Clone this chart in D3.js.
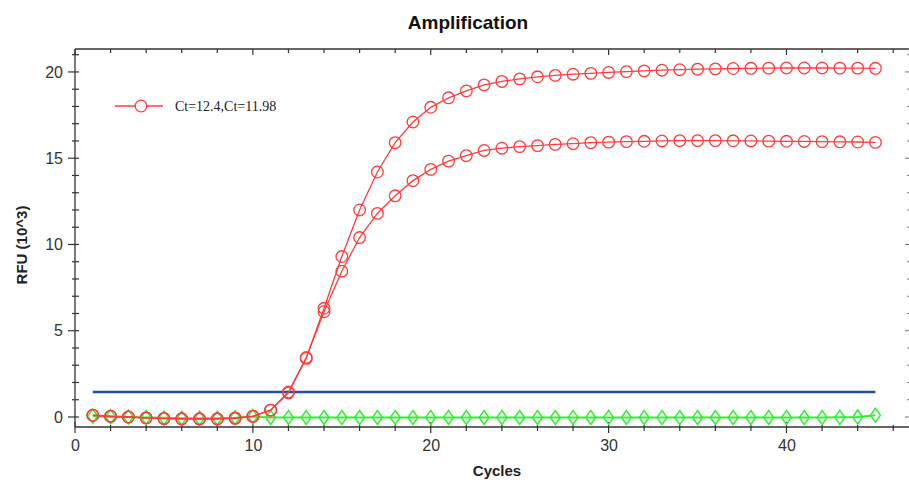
<!DOCTYPE html>
<html>
<head>
<meta charset="utf-8">
<script src="https://cdn.jsdelivr.net/npm/d3@7"></script>
<style>
  body { margin: 0; background: #fff; }
  svg { display: block; font-family: "Liberation Sans", Arial, sans-serif; }
</style>
</head>
<body>
<svg id="chart"></svg>
<script>
var cycles = [1,2,3,4,5,6,7,8,9,10,11,12,13,14,15,16,17,18,19,20,21,22,23,24,25,26,27,28,29,30,31,32,33,34,35,36,37,38,39,40,41,42,43,44,45];

var sampleA = [0.1,0.05,0.0,-0.05,-0.08,-0.1,-0.1,-0.1,-0.05,0.05,0.4,1.4,3.4,6.3,9.3,12.0,14.2,15.9,17.1,17.95,18.5,18.9,19.25,19.45,19.6,19.72,19.8,19.87,19.92,19.97,20.02,20.06,20.1,20.13,20.16,20.18,20.2,20.21,20.22,20.23,20.23,20.23,20.22,20.22,20.21];
var sampleB = [0.1,0.03,0.0,-0.05,-0.1,-0.12,-0.12,-0.12,-0.08,0.03,0.4,1.45,3.45,6.1,8.45,10.4,11.8,12.82,13.7,14.35,14.83,15.15,15.45,15.58,15.67,15.73,15.8,15.84,15.9,15.93,15.96,15.98,16.0,16.02,16.02,16.02,16.01,16.0,15.99,15.98,15.97,15.96,15.95,15.94,15.92];
var negative = [0.05,0.02,0.0,-0.03,-0.05,-0.07,-0.07,-0.07,-0.04,0.02,-0.03,-0.03,-0.03,-0.03,-0.03,-0.03,-0.03,-0.03,-0.03,-0.03,-0.03,-0.03,-0.03,-0.03,-0.03,-0.03,-0.03,-0.03,-0.03,-0.03,-0.03,-0.03,-0.03,-0.03,-0.03,-0.03,-0.03,-0.03,-0.03,-0.03,-0.03,-0.03,-0.02,0.0,0.1];
var threshold = 1.45;

var legendLabel = "Ct=12.4,Ct=11.98";
var xTicks = [0, 10, 20, 30, 40];
var yTicks = [0, 5, 10, 15, 20];

var dimensions = {
    width: 909,
    height: 482,
    margin: { top: 49, bottom: 55, left: 75, right: -2 }
};

var svg = d3.select("#chart")
    .attr("width", dimensions.width)
    .attr("height", dimensions.height);

var xScale = d3.scaleLinear()
    .domain([0, 47])
    .range([dimensions.margin.left, dimensions.width - dimensions.margin.right]);

var yScale = d3.scaleLinear()
    .domain([-0.58, 21.33])
    .range([dimensions.height - dimensions.margin.bottom, dimensions.margin.top]);

var plotBottom = dimensions.height - dimensions.margin.bottom;
var plotTop = dimensions.margin.top;
var plotLeft = dimensions.margin.left;
var plotRight = xScale(47);
var axisColor = "#333";

// frame
svg.append("line").attr("x1", plotLeft).attr("x2", plotRight).attr("y1", plotTop).attr("y2", plotTop)
    .attr("stroke", axisColor).attr("stroke-width", 1.3);
svg.append("line").attr("x1", plotLeft).attr("x2", plotRight).attr("y1", plotBottom).attr("y2", plotBottom)
    .attr("stroke", axisColor).attr("stroke-width", 1.3);
svg.append("line").attr("x1", plotLeft).attr("x2", plotLeft).attr("y1", plotTop).attr("y2", plotBottom)
    .attr("stroke", axisColor).attr("stroke-width", 1.3);

// x ticks, bottom + top
var xMinor = d3.range(0, 48, 2);
xMinor.forEach(function (c) {
    var major = c % 10 === 0;
    svg.append("line")
        .attr("x1", xScale(c)).attr("x2", xScale(c))
        .attr("y1", plotBottom - (major ? 5 : 2)).attr("y2", plotBottom + (major ? 6 : 4))
        .attr("stroke", axisColor).attr("stroke-width", 1.2);
    svg.append("line")
        .attr("x1", xScale(c)).attr("x2", xScale(c))
        .attr("y1", plotTop).attr("y2", plotTop + (major ? 6 : 4))
        .attr("stroke", axisColor).attr("stroke-width", 1.2);
});

// y ticks, left + right
var yMinor = d3.range(0, 22, 1);
yMinor.forEach(function (v) {
    var major = v % 5 === 0;
    svg.append("line")
        .attr("x1", plotLeft - (major ? 7 : 3)).attr("x2", plotLeft + 4)
        .attr("y1", yScale(v)).attr("y2", yScale(v))
        .attr("stroke", axisColor).attr("stroke-width", 1.2);
    svg.append("line")
        .attr("x1", plotRight - (major ? 6 : 4)).attr("x2", plotRight)
        .attr("y1", yScale(v)).attr("y2", yScale(v))
        .attr("stroke", "#777").attr("stroke-width", 1);
});

// tick labels through axis generators (lines hidden)
var xAxis = svg.append("g")
    .attr("transform", "translate(0," + plotBottom + ")")
    .call(d3.axisBottom(xScale).tickValues(xTicks).tickSize(0).tickPadding(13));
var yAxis = svg.append("g")
    .attr("transform", "translate(" + plotLeft + ",0)")
    .call(d3.axisLeft(yScale).tickValues(yTicks).tickSize(0).tickPadding(12));
[xAxis, yAxis].forEach(function (g) {
    g.select(".domain").remove();
    g.selectAll("text")
        .attr("fill", "#333")
        .style("font-size", "16px")
        .style("font-family", "'Liberation Sans', Arial, sans-serif");
});

// titles
svg.append("text")
    .attr("x", 468).attr("y", 29)
    .attr("text-anchor", "middle")
    .attr("font-weight", "bold").attr("font-size", 19)
    .attr("fill", "#111")
    .text("Amplification");

svg.append("text")
    .attr("x", 497).attr("y", 476)
    .attr("text-anchor", "middle")
    .attr("font-weight", "bold").attr("font-size", 15)
    .attr("fill", "#222")
    .text("Cycles");

svg.append("text")
    .attr("transform", "translate(27,245) rotate(-90)")
    .attr("text-anchor", "middle")
    .attr("font-weight", "bold").attr("font-size", 15)
    .attr("fill", "#222")
    .text("RFU (10^3)");

// threshold
svg.append("line")
    .attr("x1", xScale(cycles[0])).attr("x2", xScale(cycles[cycles.length - 1]))
    .attr("y1", yScale(threshold)).attr("y2", yScale(threshold))
    .attr("stroke", "#1f5190").attr("stroke-width", 2.5);

var line = d3.line()
    .x(function (d) { return xScale(d[0]); })
    .y(function (d) { return yScale(d[1]); });

function pairs(values) {
    return cycles.map(function (c, i) { return [c, values[i]]; });
}

// negative control (green diamonds)
var green = "#33ee33";
svg.append("path")
    .datum(pairs(negative))
    .attr("d", line)
    .attr("fill", "none")
    .attr("stroke", green)
    .attr("stroke-width", 2);

svg.append("g").selectAll("path")
    .data(pairs(negative))
    .enter()
    .append("path")
    .attr("transform", function (d) { return "translate(" + xScale(d[0]) + "," + yScale(d[1]) + ")"; })
    .attr("d", "M0,-7L5,0L0,7L-5,0Z")
    .attr("fill", "none")
    .attr("stroke", green)
    .attr("stroke-width", 1.5);

// samples (red circles)
var red = "#ff3b3b";
[sampleB, sampleA].forEach(function (values) {
    svg.append("path")
        .datum(pairs(values))
        .attr("d", line)
        .attr("fill", "none")
        .attr("stroke", red)
        .attr("stroke-width", 1.3);

    svg.append("g").selectAll("circle")
        .data(pairs(values))
        .enter()
        .append("circle")
        .attr("cx", function (d) { return xScale(d[0]); })
        .attr("cy", function (d) { return yScale(d[1]); })
        .attr("r", 5.8)
        .attr("fill", "none")
        .attr("stroke", red)
        .attr("stroke-width", 1.3);
});

// legend
var legend = svg.append("g").attr("transform", "translate(115,106)");
legend.append("line").attr("x1", 0).attr("x2", 48)
    .attr("stroke", red).attr("stroke-width", 1.3);
legend.append("circle").attr("cx", 26).attr("cy", 0).attr("r", 5.8)
    .attr("fill", "#fff").attr("stroke", red).attr("stroke-width", 1.3);
legend.append("text")
    .attr("x", 60).attr("y", 5)
    .attr("font-family", "'Liberation Serif', 'Times New Roman', serif")
    .attr("font-size", 14)
    .attr("fill", "#222")
    .text(legendLabel);
</script>
</body>
</html>
